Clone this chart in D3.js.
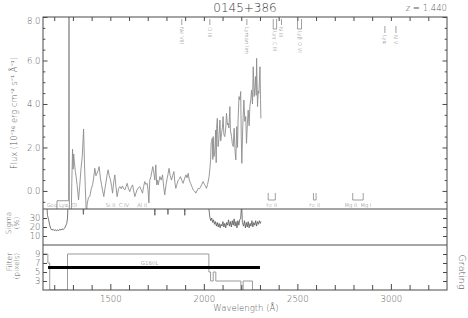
<!DOCTYPE html>
<html><head><meta charset="utf-8">
<script src="https://cdn.jsdelivr.net/npm/d3@7"></script>
<style>
html,body{margin:0;padding:0;background:#fff;}
svg{display:block;font-family:'DejaVu Sans',sans-serif;font-weight:200;}
</style></head><body>
<svg id="c" width="468" height="318"></svg>
<script>
// ---------------- data ----------------
const title = "0145+386";
const redshiftLabel = "z = 1.440";
const wavelengthTicks = [1500, 2000, 2500, 3000];
const wavelengthMinor = [1200,1300,1400,1600,1700,1800,1900,2100,2200,2300,2400,2600,2700,2800,2900,3100,3200];
const fluxTicks = [0, 2, 4, 6, 8];
const fluxMinor = [-0.5,0.5,1,1.5,2.5,3,3.5,4.5,5,5.5,6.5,7,7.5];
const sigmaTicks = [10, 20, 30];
const filterTicks = [3, 5, 7, 9];

// flux spectrum [wavelength (A), flux (1e-16 erg/cm2/s/A)]
const spectrum = [
[1214,-1.2],[1215,-0.45],[1277,-0.45],[1279,12],[1281,-1.2],[1291,-1.2],[1294,0.4],[1298,1.92],[1301,1.0],[1304,1.7],
[1308,1.29],[1313,0.9],[1318,0.6],[1322,0.3],[1330,-0.41],[1336,0.2],[1343,1.0],[1350,1.6],[1357,2.85],[1362,1.2],
[1366,0.2],[1372,-1.2],[1376,-0.6],[1383,-0.3],[1390,-0.26],[1398,0.1],[1405,0.28],[1411,0.6],[1417,1.04],[1423,0.7],
[1429,0.82],[1435,0.95],[1440,1.12],[1447,0.6],[1453,0.28],[1459,0.0],[1465,-0.26],[1471,0.1],[1476,0.36],[1482,0.7],
[1488,0.97],[1494,0.7],[1501,0.5],[1507,0.2],[1512,-0.1],[1518,0.4],[1524,0.74],[1530,0.2],[1536,-0.26],[1544,0.1],
[1551,0.2],[1558,0.1],[1565,0.23],[1571,0.1],[1578,0.05],[1584,0.2],[1590,0.35],[1597,0.1],[1604,-0.03],[1611,0.15],
[1619,0.28],[1625,0.0],[1631,-0.26],[1637,-0.1],[1643,0.05],[1650,0.15],[1658,0.2],[1665,0.05],[1672,-0.1],[1678,0.2],
[1684,0.43],[1690,0.3],[1697,0.35],[1702,0.0],[1706,-0.55],[1711,0.5],[1717,0.66],[1722,0.9],[1727,1.12],[1733,0.8],
[1738,0.5],[1743,1.2],[1748,0.28],[1752,0.5],[1756,0.28],[1765,0.66],[1772,0.5],[1779,0.74],[1785,0.2],[1791,-0.18],
[1798,0.3],[1804,0.58],[1809,0.8],[1814,1.04],[1820,0.7],[1827,0.5],[1833,0.7],[1840,0.89],[1845,0.4],[1850,0.12],
[1856,0.3],[1863,0.5],[1869,0.55],[1875,0.66],[1882,0.5],[1889,0.35],[1896,0.55],[1904,0.74],[1910,0.6],[1916,0.81],
[1922,0.5],[1929,0.35],[1936,0.2],[1943,0.05],[1950,0.0],[1957,-0.1],[1963,0.0],[1970,0.12],[1976,0.1],[1982,0.17],
[1989,0.3],[1996,0.43],[2000,0.35],[2005,0.28],[2010,0.2],[2014,0.12],[2020,0.3],[2028,0.66],[2033,1.1],[2036,1.43],
[2039,2.2],[2041,2.27],[2045,2.42],[2048,1.45],[2050,2.5],[2054,1.58],[2059,1.88],[2063,2.8],[2066,1.3],[2068,2.88],
[2072,3.34],[2076,2.04],[2080,2.34],[2086,3.26],[2090,2.3],[2095,2.65],[2099,2.9],[2103,3.42],[2107,2.6],[2112,2.5],
[2117,2.9],[2121,3.57],[2126,3.03],[2130,3.11],[2134,2.9],[2139,3.88],[2142,2.8],[2148,2.5],[2152,2.19],[2157,2.04],
[2162,2.88],[2167,1.8],[2171,1.43],[2176,2.96],[2180,2.0],[2183,3.26],[2188,4.34],[2193,4.18],[2197,4.57],[2200,2.5],
[2203,1.27],[2208,2.96],[2214,4.18],[2219,3.2],[2224,3.42],[2228,2.19],[2233,3.11],[2237,3.72],[2242,3.0],[2246,3.88],
[2251,4.2],[2255,4.64],[2260,4.0],[2264,5.71],[2269,4.34],[2273,4.8],[2276,5.26],[2280,4.4],[2282,6.1],[2287,3.88],
[2291,4.6],[2294,4.49],[2297,5.0],[2300,5.71],[2303,4.2],[2305,3.34]
];

// sigma (%) [wavelength, percent]
const sigma = [
[1150,60],[1160,45],[1164,33],[1170,28],[1176,22],[1182,18],[1188,16.5],[1194,17.5],[1200,16],[1206,17],[1212,15.5],
[1218,17],[1224,16],[1230,17.5],[1236,16.5],[1242,18],[1248,17],[1254,18.5],[1259,20],[1263,22],[1267,24],[1271,30],
[1276,60],[1350,60],[1355,37],[1356,34],[1357,37],[1362,60],[1733,60],[1737,36],[1738,33],[1739,36],[1743,60],
[1803,60],[1807,37],[1808,34],[1809,37],[1813,60],[1893,60],[1897,36],[1898,33],[1899,36],[1903,60],
[2022,60],[2027,40],[2032,31],[2037,27],[2042,30],[2047,25],[2052,28],[2057,23],[2062,26],[2067,21],[2072,25],
[2077,20],[2082,24],[2087,19],[2092,23],[2097,21],[2102,26],[2107,20],[2112,24],[2117,19],[2122,25],[2127,22],
[2132,28],[2137,21],[2142,26],[2147,20],[2152,27],[2157,22],[2162,29],[2167,21],[2172,26],[2177,19],[2182,27],
[2187,22],[2192,28],[2197,30],[2202,45],[2206,25],[2212,21],[2217,27],[2222,19],[2227,25],[2232,20],[2237,26],
[2242,19],[2247,24],[2252,21],[2257,27],[2262,20],[2267,25],[2272,22],[2277,27],[2282,21],[2287,26],[2292,23],
[2297,27],[2302,24],[2305,26]
];

// filter width (pixels), step function [start wavelength, value]
const filterWidth = [
[1140,9],[1166,7],[1176,1],[1271,9],[2027,5],[2036,3],[2050,5],[2064,3],[2198,1],[2210,3],[2260,1],[2310,1]
];

// grating coverage
const gratingNames = ["G160L"];
const gratingStart = [1167];
const gratingEnd = [2300];
const gratingLevel = [6];

// emission line identifications (observed wavelengths)
const emissionLabels = ["Ne VIII", "O III", "Lyman lim", "Lyγ C III", "N III", "Lyβ O VI", "Lyα", "N V"];
const emissionWaves = [[1882], [2032], [2230], [2371, 2389], [2415], [2501, 2522], [2968], [3027]];

// absorption (Galactic / geocoronal) identifications
const absorptionLabels = ["Geo Lyα, OI", "Si II, C IV", "Al II", "Fe II", "Fe II", "Mg II, Mg I"];
const absorptionWaves = [[1241], [1538], [1670], [2344, 2382], [2586, 2600], [2796, 2852]];
const absorptionBracket = [false, false, false, true, true, true];

// ---------------- drawing ----------------
const svg = d3.select('#c');
const L = 43, R = 447, T = 17, Y1 = 209, Y2 = 245, B = 290;
const frameColor = '#4a4a4a', textColor = '#5a5a5a';

const x = d3.scaleLinear().domain([1140, 3300]).range([L, R]);
const yF = d3.scaleLinear().domain([-0.83, 8]).range([Y1, T]);
const yS = d3.scaleLinear().domain([0, 40]).range([Y2, Y1]);
const yR = d3.scaleLinear().domain([1, 11]).range([B, Y2]);

const defs = svg.append('defs');
function clip(id, y0, y1) {
  defs.append('clipPath').attr('id', id).append('rect')
    .attr('x', L).attr('y', y0).attr('width', R - L).attr('height', y1 - y0);
}
clip('cTop', T, Y1); clip('cSig', Y1, Y2); clip('cFil', Y2, B);

// spectrum
svg.append('path').datum(spectrum).attr('clip-path', 'url(#cTop)')
  .attr('fill', 'none').attr('stroke', '#8c8c8c').attr('stroke-width', 0.9)
  .attr('d', d3.line().x(d => x(d[0])).y(d => yF(d[1])));

// sigma
svg.append('path').datum(sigma).attr('clip-path', 'url(#cSig)')
  .attr('fill', 'none').attr('stroke', '#555').attr('stroke-width', 0.8)
  .attr('d', d3.line().x(d => x(d[0])).y(d => yS(d[1])));

// filter
svg.append('path').datum(filterWidth).attr('clip-path', 'url(#cFil)')
  .attr('fill', 'none').attr('stroke', '#9a9a9a').attr('stroke-width', 1)
  .attr('d', d3.line().curve(d3.curveStepAfter).x(d => x(d[0])).y(d => yR(d[1])));

// grating bar
gratingNames.forEach((g, i) => {
  svg.append('line').attr('x1', x(gratingStart[i])).attr('x2', x(gratingEnd[i]))
    .attr('y1', yR(gratingLevel[i])).attr('y2', yR(gratingLevel[i]))
    .attr('stroke', '#000').attr('stroke-width', 3);
  svg.append('text').attr('x', x(1710)).attr('y', yR(gratingLevel[i]) - 2.5)
    .attr('text-anchor', 'middle').attr('font-size', 5.5).attr('fill', textColor).text(g);
});

// frame
svg.append('rect').attr('x', L).attr('y', T).attr('width', R - L).attr('height', B - T)
  .attr('fill', 'none').attr('stroke', frameColor).attr('stroke-width', 1);
[Y1, Y2].forEach(yy => svg.append('line').attr('x1', L).attr('x2', R).attr('y1', yy).attr('y2', yy)
  .attr('stroke', frameColor).attr('stroke-width', 1));

// axes helper
function axis(gen, tr, fs) {
  const g = svg.append('g').attr('transform', tr).call(gen);
  g.select('.domain').remove();
  g.selectAll('line').attr('stroke', frameColor);
  g.selectAll('text').attr('fill', textColor).attr('font-size', fs || 8.5)
    .attr('font-family', "'DejaVu Sans',sans-serif").attr('font-weight', 200);
  return g;
}
// wavelength axes
axis(d3.axisBottom(x).tickValues(wavelengthTicks).tickSize(-6).tickPadding(6).tickFormat(d3.format('d')), `translate(0,${B})`);
axis(d3.axisBottom(x).tickValues(wavelengthMinor).tickSize(-5).tickFormat(''), `translate(0,${B})`);
axis(d3.axisTop(x).tickValues(wavelengthTicks.concat(wavelengthMinor)).tickSize(-4).tickFormat(''), `translate(0,${T})`);

// flux axes
const fa = axis(d3.axisLeft(yF).tickValues(fluxTicks).tickSize(-4.5).tickPadding(2.5).tickFormat(d3.format('.1f')), `translate(${L},0)`);
fa.selectAll('text').filter(d => d === 8).attr('dy', '0.75em');
axis(d3.axisLeft(yF).tickValues(fluxMinor).tickSize(-2.3).tickFormat(''), `translate(${L},0)`);
axis(d3.axisRight(yF).tickValues(fluxTicks).tickSize(-4.5).tickFormat(''), `translate(${R},0)`);
axis(d3.axisRight(yF).tickValues(fluxMinor).tickSize(-2.3).tickFormat(''), `translate(${R},0)`);

// sigma axes
axis(d3.axisLeft(yS).tickValues(sigmaTicks).tickSize(-4).tickPadding(2.5).tickFormat(d3.format('d')), `translate(${L},0)`);
axis(d3.axisRight(yS).tickValues(sigmaTicks).tickSize(-4).tickFormat(''), `translate(${R},0)`);

// filter axes
axis(d3.axisLeft(yR).tickValues(filterTicks).tickSize(-4).tickPadding(2.5).tickFormat(d3.format('d')), `translate(${L},0)`);
axis(d3.axisRight(yR).tickValues(filterTicks).tickSize(-4).tickFormat(''), `translate(${R},0)`);

// titles
svg.append('text').attr('x', (L + R) / 2).attr('y', 12).attr('text-anchor', 'middle')
  .attr('font-size', 12).attr('fill', '#3a3a3a').text(title);
svg.append('text').attr('x', R).attr('y', 11).attr('text-anchor', 'end')
  .attr('font-size', 8.5).attr('fill', textColor).text(redshiftLabel);
svg.append('text').attr('x', 246).attr('y', 311).attr('text-anchor', 'middle')
  .attr('font-size', 8.5).attr('fill', textColor).text('Wavelength (Å)');

function vtext(tx, ty, str, fs, rot) {
  svg.append('text').attr('transform', `translate(${tx},${ty}) rotate(${rot || -90})`)
    .attr('text-anchor', 'middle').attr('font-size', fs).attr('fill', textColor).text(str);
}
vtext(16.5, 113, 'Flux (10⁻¹⁶ erg cm⁻² s⁻¹ Å⁻¹)', 8.3);
vtext(10.5, 223, 'Sigma', 7.2);
vtext(18.5, 223, '(%)', 7.2);
vtext(12, 262, 'Filter', 7.5);
vtext(18.5, 266, '(pixels)', 7.2);
vtext(459, 272, 'Grating', 9.5, 90);

// emission line IDs (top)
const topTickY = {"Lyα": [26, 33], "N V": [26, 33]};
emissionLabels.forEach((lab, i) => {
  const ws = emissionWaves[i];
  const yy = topTickY[lab] || (ws.length > 1 ? [19, 29] : [19, 25]);
  const g = svg.append('g');
  ws.forEach(w => g.append('line').attr('x1', x(w)).attr('x2', x(w)).attr('y1', yy[0]).attr('y2', yy[1]));
  if (ws.length > 1) g.append('line').attr('x1', x(ws[0])).attr('x2', x(ws[ws.length - 1])).attr('y1', yy[1]).attr('y2', yy[1]);
  g.selectAll('line').attr('stroke', '#777').attr('stroke-width', 0.7);
  const cx = d3.mean(ws, w => x(w));
  g.append('text').attr('transform', `translate(${cx},${yy[1] + 2}) rotate(90)`)
    .attr('dominant-baseline', 'central').attr('font-size', 5.3).attr('fill', '#666').text(lab);
});

// absorption IDs (bottom of flux panel)
absorptionLabels.forEach((lab, i) => {
  const ws = absorptionWaves[i];
  const g = svg.append('g');
  if (absorptionBracket[i]) {
    ws.forEach(w => g.append('line').attr('x1', x(w)).attr('x2', x(w)).attr('y1', 193).attr('y2', 200));
    g.append('line').attr('x1', x(ws[0])).attr('x2', x(ws[ws.length - 1])).attr('y1', 200).attr('y2', 200);
    g.selectAll('line').attr('stroke', '#777').attr('stroke-width', 0.7);
  }
  g.append('text').attr('x', d3.mean(ws, w => x(w))).attr('y', 206.5).attr('text-anchor', 'middle')
    .attr('font-size', 5.3).attr('fill', '#666').text(lab);
});
</script>
</body></html>
